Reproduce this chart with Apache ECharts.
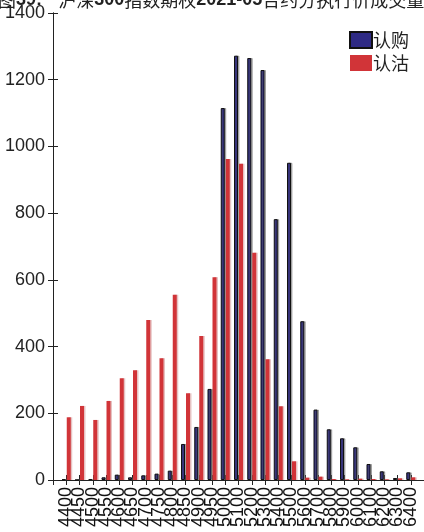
<!DOCTYPE html>
<html>
<head>
<meta charset="utf-8">
<script src="https://cdn.jsdelivr.net/npm/echarts@6/dist/echarts.min.js"></script>
<style>
  html, body { margin: 0; padding: 0; background: #fff; }
  #main { width: 424px; height: 532px; }
</style>
</head>
<body>
<div id="main"></div>
<script>
// strike prices
var strikes = ['4400', '4450', '4500', '4550', '4600', '4650', '4700', '4750', '4800', '4850',
    '4900', '4950', '5000', '5100', '5200', '5300', '5400', '5500', '5600', '5700',
    '5800', '5900', '6000', '6100', '6200', '6300', '6400'];
var callVol = [2, 0, 3, 8, 16, 8, 14, 19, 28, 108, 159, 273, 1115, 1272, 1265, 1229, 782, 951, 476, 211,
    152, 125, 98, 48, 26, 6, 23];
var putVol = [188, 222, 180, 237, 305, 329, 480, 365, 555, 260, 432, 608, 962, 948, 681, 362, 221, 56, 7, 10,
    3, 2, 4, 3, 2, 5, 8];
var yTicks = [0, 200, 400, 600, 800, 1000, 1200, 1400];

var chart = echarts.init(document.getElementById('main'));

var toPairs = function (arr) {
    return arr.map(function (v, i) { return [i + 1, v]; });
};

var font = 'Liberation Sans, Arial, sans-serif';
var cjk = '"Noto Sans CJK SC", sans-serif';

var option = {
    animation: false,
    title: {
        left: -7,
        top: -14,
        text: '{c|图}{b|39:}{c|    沪深}{b|300}{c|指数期权}{b|2021-05}{c|合约分执行价成交量}',
        textStyle: {
            rich: {
                c: {fontFamily: cjk, fontSize: 18, fontWeight: 'normal', color: '#222'},
                b: {fontFamily: font, fontSize: 18, fontWeight: 'bold', color: '#222'}
            }
        }
    },
    legend: {
        right: 10,
        top: 26,
        orient: 'vertical',
        icon: 'rect',
        itemWidth: 22,
        itemHeight: 16,
        itemGap: 5,
        textStyle: {fontFamily: cjk, fontSize: 18, color: '#222', padding: [0, 0, 0, -4]},
        data: ['认购', '认沽']
    },
    grid: {left: 53, right: -2, top: 13, bottom: 52, containLabel: false},
    xAxis: [{
        type: 'value',
        min: 0, max: 28, interval: 1,
        splitLine: {show: false},
        axisLine: {lineStyle: {color: '#222', width: 1}},
        axisTick: {inside: true, length: 5, lineStyle: {color: '#222'}},
        axisLabel: {
            rotate: 90,
            margin: 7,
            fontFamily: font,
            fontSize: 18,
            color: '#111',
            formatter: function (v) { return strikes[v - 1] || ''; }
        }
    }, {
        type: 'value',
        position: 'top',
        min: 0, max: 28, interval: 1,
        splitLine: {show: false},
        axisLine: {lineStyle: {color: '#222', width: 1}},
        axisTick: {inside: true, length: 5, lineStyle: {color: '#222'}},
        axisLabel: {show: false}
    }],
    yAxis: [{
        type: 'value',
        min: yTicks[0], max: yTicks[yTicks.length - 1], interval: 200,
        splitLine: {show: false},
        axisLine: {show: true, lineStyle: {color: '#222', width: 1}},
        axisTick: {show: true, inside: true, length: 5, lineStyle: {color: '#222'}},
        axisLabel: {
            fontFamily: font, fontSize: 18, color: '#222', margin: 8,
            formatter: function (v) { return String(v); }
        }
    }, {
        type: 'value',
        position: 'right',
        min: yTicks[0], max: yTicks[yTicks.length - 1], interval: 200,
        splitLine: {show: false},
        axisLine: {show: true, lineStyle: {color: '#222', width: 1}},
        axisTick: {show: true, inside: true, length: 5, lineStyle: {color: '#222'}},
        axisLabel: {show: false}
    }],
    series: [{
        name: '认购',
        type: 'bar',
        barWidth: 4,
        barGap: '25%',
        data: toPairs(callVol),
        itemStyle: {
            color: '#2e2a84',
            borderColor: '#111',
            borderWidth: 1,
            shadowColor: 'rgba(90,90,90,0.45)',
            shadowOffsetX: 1.5,
            shadowBlur: 0
        }
    }, {
        name: '认沽',
        type: 'bar',
        barWidth: 4,
        barGap: '25%',
        data: toPairs(putVol),
        itemStyle: {
            color: '#d13438',
            shadowColor: 'rgba(200,120,120,0.45)',
            shadowOffsetX: 1.5,
            shadowBlur: 0
        }
    }]
};

chart.setOption(option);
</script>
</body>
</html>
